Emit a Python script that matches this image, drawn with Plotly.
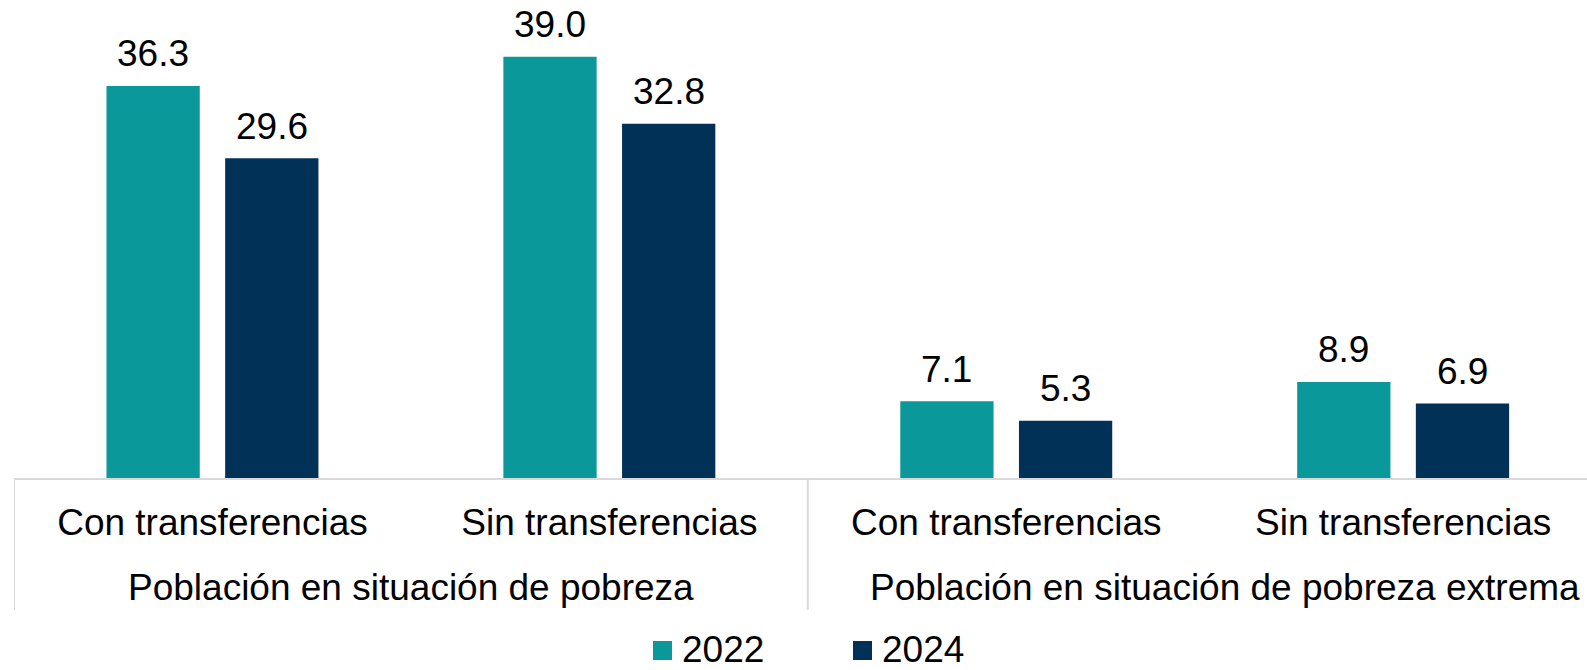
import plotly.graph_objects as go

categories = ["Con transferencias", "Sin transferencias", "Con transferencias", "Sin transferencias"]
groups = ["Población en situación de pobreza", "Población en situación de pobreza extrema"]
values_2022 = [36.3, 39.0, 7.1, 8.9]
values_2024 = [29.6, 32.8, 5.3, 6.9]
series_names = ["2022", "2024"]
colors = ["#0A989B", "#023157"]

FONT = "Liberation Sans, Arial, sans-serif"
FS = 37
BARGAP = 0.402
W, H = 1587, 670
L, R, T, B = 14, 0, 20, 192
PW, PH = W - L - R, H - T - B
xs = list(range(len(categories)))
slot = (1 - BARGAP) / 2


def px2x(px):
    return (px - L) / PW


def py2y(py):
    return (H - B - py) / PH


fig = go.Figure()
for k, (name, vals, col) in enumerate(zip(series_names, [values_2022, values_2024], colors)):
    fig.add_trace(go.Bar(
        x=xs, y=vals, name=name, marker=dict(color=col, line=dict(width=0)),
        showlegend=False,
    ))
    off = (k - 0.5) * slot
    for xi, v in zip(xs, vals):
        fig.add_annotation(x=xi + off, y=v, xref="x", yref="y", text=f"{v:.1f}",
                           showarrow=False, yanchor="middle", yshift=32,
                           font=dict(family=FONT, size=FS, color="#000000"))

# group labels
for i, g in enumerate(groups):
    fig.add_annotation(x=2 * i + 0.5, xref="x", y=-0.240, yref="paper", text=g,
                       showarrow=False, yanchor="middle", xshift=(0 if i == 0 else 20),
                       font=dict(family=FONT, size=FS, color="#000000"))

# dividers
for xv in [-0.5, 1.5]:
    fig.add_shape(type="line", xref="x", yref="paper", x0=xv, x1=xv, y0=0, y1=-0.288,
                  line=dict(color="#D9D9D9", width=2))

# legend (drawn manually so that it is not clipped at the bottom edge)
legend_sq_left = [653, 853]
for name, col, sx in zip(series_names, colors, legend_sq_left):
    fig.add_shape(type="rect", xref="paper", yref="paper",
                  x0=px2x(sx), x1=px2x(sx + 19), y0=py2y(660), y1=py2y(641),
                  fillcolor=col, line=dict(width=0))
    fig.add_annotation(x=px2x(sx + 27), y=py2y(649), xref="paper", yref="paper", text=name,
                       showarrow=False, xanchor="left", yanchor="middle",
                       font=dict(family=FONT, size=FS, color="#000000"))

fig.update_layout(
    width=W, height=H,
    margin=dict(l=L, r=R, t=T, b=B, autoexpand=False),
    paper_bgcolor="white", plot_bgcolor="white",
    barmode="group", bargap=BARGAP, bargroupgap=0.214,
    showlegend=False,
    font=dict(family=FONT, size=FS, color="#000000"),
)
fig.update_xaxes(range=[-0.5, -0.5 + PW / 396.9], tickvals=xs, ticktext=categories, showline=True,
                 linecolor="#D9D9D9", linewidth=2, showgrid=False, zeroline=False, automargin=False,
                 ticks="", tickfont=dict(family=FONT, size=FS, color="#000000"), ticklabelstandoff=11)
fig.update_yaxes(range=[0, PH / 10.8], visible=False, showgrid=False, zeroline=False, automargin=False)

fig.write_html("out.html", config={"displayModeBar": False},
               post_script="document.body.style.margin='0';document.body.style.overflow='hidden';")
